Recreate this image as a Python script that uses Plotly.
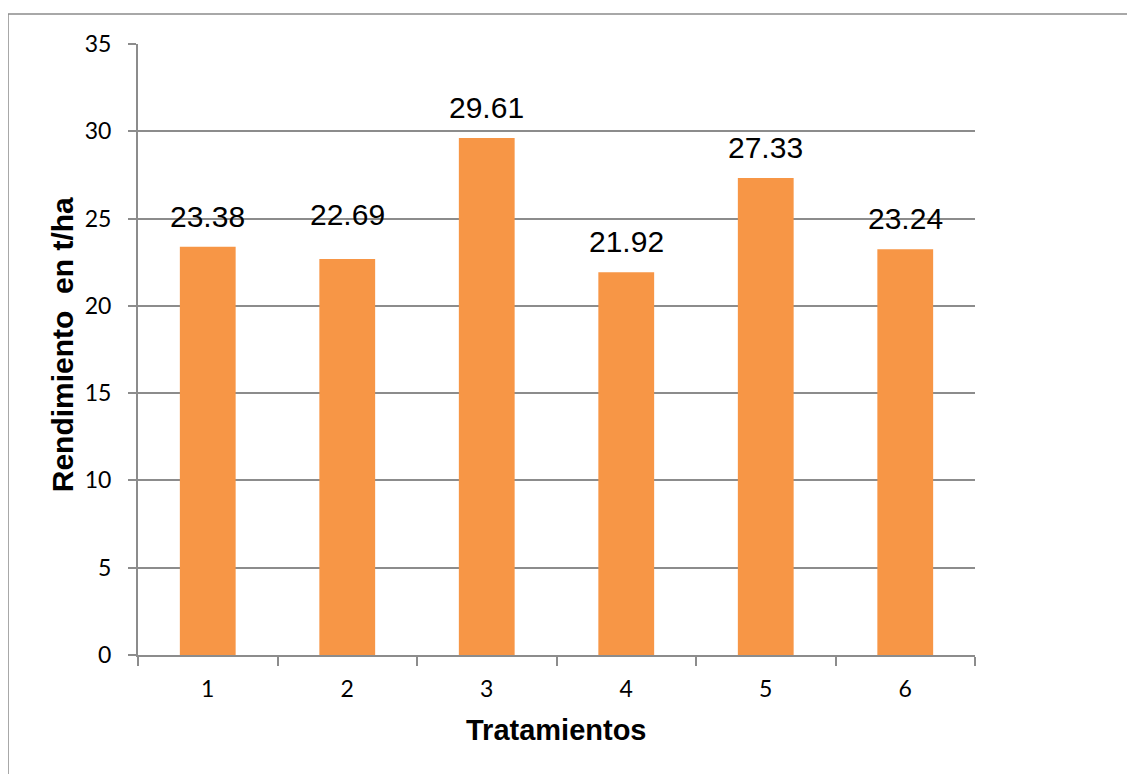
import plotly.graph_objects as go

categories = ["1", "2", "3", "4", "5", "6"]
values = [23.38, 22.69, 29.61, 21.92, 27.33, 23.24]
labels = ["23.38", "22.69", "29.61", "21.92", "27.33", "23.24"]
y_ticks = [0, 5, 10, 15, 20, 25, 30, 35]

BAR = "#F79646"
GRID = "#8C8C8C"

# page body has an 8px margin; figure coordinates are offset accordingly
W, H = 1127, 766
L, T, R, B = 130, 36, 160, 119
PW = W - L - R
PH = H - T - B

fig = go.Figure()
fig.add_trace(go.Bar(x=list(range(len(categories))), y=values,
                     marker=dict(color=BAR, line=dict(width=0)), hoverinfo="y"))

# in the original, the second label sits a little higher than the others
extra_shift = {1: 14}

annotations = []
for i, (v, t) in enumerate(zip(values, labels)):
    annotations.append(dict(x=i, y=v, xref="x", yref="y", text=t, showarrow=False,
                            yanchor="bottom", xanchor="center", yshift=12 + extra_shift.get(i, 0),
                            font=dict(family="Liberation Sans, Arial", size=30, color="black")))

# axis titles
annotations.append(dict(x=0.5, y=-0.122, xref="paper", yref="paper", text="<b>Tratamientos</b>",
                        showarrow=False, xanchor="center", yanchor="middle",
                        font=dict(family="Liberation Sans, Arial", size=29, color="black")))
annotations.append(dict(x=-0.09, y=0.508, xref="paper", yref="paper",
                        text="<b>Rendimiento&nbsp; en t/ha</b>", textangle=-90,
                        showarrow=False, xanchor="center", yanchor="middle",
                        font=dict(family="Liberation Sans, Arial", size=30, color="black")))

fig.update_layout(
    width=W, height=H,
    margin=dict(l=L, r=R, t=T, b=B),
    paper_bgcolor="white", plot_bgcolor="white",
    bargap=0.6,
    showlegend=False,
    annotations=annotations,
    shapes=[dict(type="rect", xref="paper", yref="paper",
                 x0=(0 - L) / PW, x1=1.4, y0=-0.5, y1=(H - B - 6) / PH,
                 line=dict(color=GRID, width=1.5), fillcolor="rgba(0,0,0,0)", layer="below")],
    xaxis=dict(
        range=[-0.5, len(categories) - 0.5],
        tickmode="array", tickvals=list(range(len(categories))), ticktext=categories,
        showline=True, linecolor=GRID, linewidth=2,
        ticks="", showgrid=False, zeroline=False,
        tickfont=dict(family="Lato, Open Sans", size=23, color="black"),
        ticklabelstandoff=12,
        minor=dict(tickmode="array", tickvals=[i - 0.5 for i in range(len(categories) + 1)],
                   ticks="outside", ticklen=9, tickcolor=GRID, tickwidth=2, showgrid=False),
    ),
    yaxis=dict(
        range=[0, 35], tickvals=y_ticks,
        showline=True, linecolor=GRID, linewidth=2,
        showgrid=True, gridcolor=GRID, gridwidth=2,
        zeroline=False,
        ticks="outside", ticklen=8, tickcolor=GRID, tickwidth=2,
        tickfont=dict(family="Lato, Open Sans", size=23, color="black"),
        ticklabelstandoff=12,
    ),
)

fig.write_html("out.html")
